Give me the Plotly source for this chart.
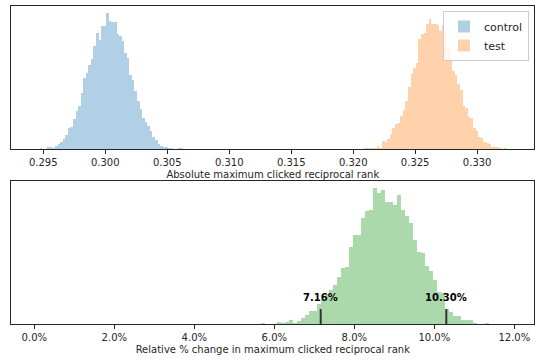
import plotly.graph_objects as go

# ---------------- data ----------------
control_bin_start = 0.29473
control_bin_width = 0.0002067
control_counts = [1, 0, 0, 2, 2, 1.3, 3, 5, 7.3, 10.3, 14.3, 21, 21.7, 29.7, 37.7, 43,
                  55.7, 71.3, 76, 84, 90.3, 103, 116, 109, 123.3, 123.3, 136.3, 128,
                  127, 126.7, 114.7, 113.3, 108, 95.7, 90.7, 74.3, 69, 58.3, 48.3, 40,
                  31.3, 26.7, 23, 18.3, 11.7, 9, 5, 3.3, 2.3, 1.7, 1, 1, 0, 0, 1, 1]

test_bin_start = 0.32087
test_bin_width = 0.000210
test_counts = [0.7, 0.7, 0.7, 0.7, 1, 3, 1, 8, 7.3, 10.3, 14.7, 21.3, 25, 25.7, 33, 39,
               47.7, 61.7, 75, 80.7, 86.3, 109.7, 115, 116, 125, 130, 124.7, 124.7,
               123.7, 118.3, 124.3, 116.7, 102, 91, 78.3, 73.7, 64.7, 59, 42.7, 41.3,
               32.3, 31.3, 21.3, 18, 12.3, 10.7, 7.3, 6, 4.7, 2.3, 2.3, 2, 1, 0, 1.3]

change_bin_start = 0.05675
change_bin_width = 0.001
change_counts = [0.7, 0, 0.5, 0, 1.7, 1, 2.3, 4, 1.3, 3, 6, 8.7, 13, 13, 20, 25, 30,
                 34.3, 39.3, 46.7, 56, 57, 77, 89, 89.3, 106, 113.3, 114.7, 136.3, 131,
                 134, 122, 122, 119, 129.7, 114, 108, 101, 84.7, 72.3, 71.3, 58, 53.3,
                 44.3, 32, 30.7, 15.3, 11.7, 8, 8, 4, 3.7, 4, 1.3, 0.3, 0, 0.7]

ci_values = [0.0716, 0.1030]
ci_labels = ["7.16%", "10.30%"]

top_ticks = [0.295, 0.300, 0.305, 0.310, 0.315, 0.320, 0.325, 0.330]
bottom_ticks = [0.0, 0.02, 0.04, 0.06, 0.08, 0.10, 0.12]

top_xlabel = "Absolute maximum clicked reciprocal rank"
bottom_xlabel = "Relative % change in maximum clicked reciprocal rank"


def centers(start, width, counts):
    return [start + width * (i + 0.5) for i in range(len(counts))]


# ---------------- figure ----------------
W, H = 541, 362
FONT = "DejaVu Sans"
fig = go.Figure()

fig.add_trace(go.Bar(
    x=centers(control_bin_start, control_bin_width, control_counts), y=control_counts,
    width=control_bin_width, marker=dict(color="rgba(31,119,180,0.35)", line=dict(width=0)),
    name="control", xaxis="x", yaxis="y"))
fig.add_trace(go.Bar(
    x=centers(test_bin_start, test_bin_width, test_counts), y=test_counts,
    width=test_bin_width, marker=dict(color="rgba(255,127,14,0.35)", line=dict(width=0)),
    name="test", xaxis="x", yaxis="y"))
fig.add_trace(go.Bar(
    x=centers(change_bin_start, change_bin_width, change_counts), y=change_counts,
    width=change_bin_width, marker=dict(color="rgba(44,160,44,0.4)", line=dict(width=0)),
    name="change", showlegend=False, xaxis="x2", yaxis="y2"))

line_h = 15
for v, lab in zip(ci_values, ci_labels):
    fig.add_shape(type="line", xref="x2", yref="y2", x0=v, x1=v, y0=0, y1=line_h,
                  line=dict(color="#333333", width=2))
    fig.add_annotation(xref="x2", yref="y2", x=v, y=line_h + 4, text="<b>" + lab + "</b>",
                       showarrow=False, yanchor="bottom", xanchor="center",
                       font=dict(family=FONT, size=10, color="black"))

dom_x = [11.3 / W, 534.3 / W]
axis_common = dict(showline=True, mirror=True, linecolor="#262626", linewidth=1,
                   ticks="outside", ticklen=3.5, tickcolor="#262626", showgrid=False,
                   zeroline=False, tickfont=dict(family=FONT, size=10, color="#262626"))

fig.update_layout(
    width=W, height=H, margin=dict(l=0, r=0, t=0, b=0, autoexpand=False),
    paper_bgcolor="white", plot_bgcolor="white", barmode="overlay", bargap=0,
    font=dict(family=FONT, size=10, color="#262626"),
    xaxis=dict(domain=dom_x, anchor="y", range=[0.29242, 0.33461], tickvals=top_ticks,
               tickformat=".3f", title=dict(text=top_xlabel, standoff=4,
                                            font=dict(family=FONT, size=10)),
               **axis_common),
    yaxis=dict(domain=[1 - 149 / H, 1 - 6 / H], anchor="x", range=[0, 143.1],
               showticklabels=False, showline=True, mirror=True, linecolor="#262626",
               linewidth=1, ticks="", showgrid=False, zeroline=False),
    xaxis2=dict(domain=dom_x, anchor="y2", range=[-0.00575, 0.125], tickvals=bottom_ticks,
                tickformat=".1%", title=dict(text=bottom_xlabel, standoff=4,
                                             font=dict(family=FONT, size=10)),
                **axis_common),
    yaxis2=dict(domain=[1 - 324 / H, 1 - 181 / H], anchor="x2", range=[0, 143.5],
                showticklabels=False, showline=True, mirror=True, linecolor="#262626",
                linewidth=1, ticks="", showgrid=False, zeroline=False),
    legend=dict(x=529 / W, y=1 - 11 / H, xanchor="right", yanchor="top",
                bordercolor="#cccccc", borderwidth=1, bgcolor="rgba(255,255,255,0.8)",
                font=dict(family=FONT, size=11, color="#262626"),
                tracegroupgap=0, itemwidth=30),
)

fig.write_html("out.html", config={"displayModeBar": False},
               post_script="document.body.style.margin='0px';document.body.style.overflow='hidden';")
